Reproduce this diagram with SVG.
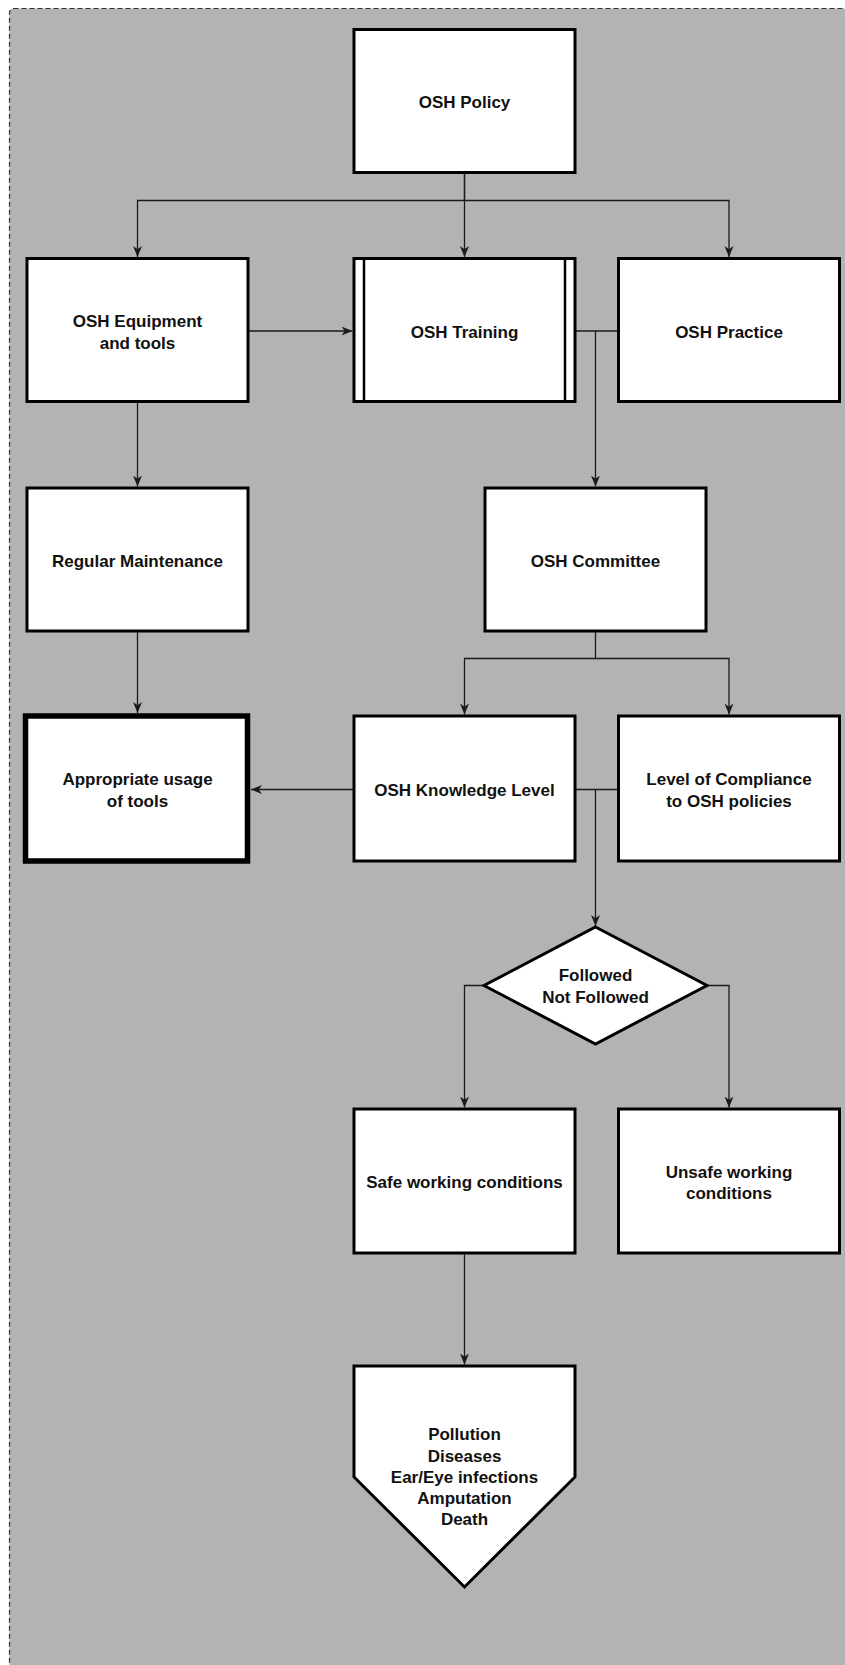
<svg xmlns="http://www.w3.org/2000/svg" width="845" height="1665" viewBox="0 0 845 1665">
<defs>
<style>
.box{fill:#fff;stroke:#000;stroke-width:3}
.thick{fill:#fff;stroke:#000;stroke-width:5.5}
.inner{stroke:#000;stroke-width:2.5}
.con{fill:none;stroke:#1a1a1a;stroke-width:1.3}
text{font-family:"Liberation Sans",Arial,sans-serif;font-weight:bold;font-size:17px;fill:#111;text-anchor:middle}
</style>
<marker id="arr" viewBox="0 0 11 10" refX="11" refY="5" markerWidth="11" markerHeight="10" orient="auto" markerUnits="userSpaceOnUse">
<path d="M0,0.5 L11,5 L0,9.5 L3.2,5 z" fill="#1a1a1a"/>
</marker>
</defs>
<rect x="0" y="0" width="845" height="1665" fill="#fff"/>
<rect x="9.5" y="8.5" width="850" height="1670" rx="4" fill="#b3b3b3" stroke="#333" stroke-width="1.2" stroke-dasharray="5 3"/>

<g id="connectors">
<path class="con" d="M464.5,174 V200.5 H137.5 V257" marker-end="url(#arr)"/>
<path class="con" d="M464.5,174 V257" marker-end="url(#arr)"/>
<path class="con" d="M464.5,200.5 H729 V257" marker-end="url(#arr)"/>
<path class="con" d="M248.5,331 H352.5" marker-end="url(#arr)"/>
<path class="con" d="M575.5,331 H617"/>
<path class="con" d="M595.5,331 V486.5" marker-end="url(#arr)"/>
<path class="con" d="M137.5,402 V486.5" marker-end="url(#arr)"/>
<path class="con" d="M137.5,632 V713" marker-end="url(#arr)"/>
<path class="con" d="M595.5,632 V658.5 H464.5 V714.5" marker-end="url(#arr)"/>
<path class="con" d="M595.5,658.5 H729 V714.5" marker-end="url(#arr)"/>
<path class="con" d="M353,789.5 H251" marker-end="url(#arr)"/>
<path class="con" d="M575.5,789.5 H617"/>
<path class="con" d="M595.5,789.5 V926" marker-end="url(#arr)"/>
<path class="con" d="M484,985.5 H464.5 V1107.5" marker-end="url(#arr)"/>
<path class="con" d="M707,985.5 H729 V1107.5" marker-end="url(#arr)"/>
<path class="con" d="M464.5,1254.5 V1364.5" marker-end="url(#arr)"/>
</g>

<g id="osh-policy">
<rect class="box" x="354" y="29.5" width="221" height="143"/>
<text x="464.5" y="108">OSH Policy</text>
</g>
<g id="osh-equipment">
<rect class="box" x="27" y="258.5" width="221" height="143"/>
<text x="137.5" y="327">OSH Equipment</text>
<text x="137.5" y="348.5">and tools</text>
</g>
<g id="osh-training">
<rect class="box" x="354" y="258.5" width="221" height="143"/>
<line class="inner" x1="364" y1="258.5" x2="364" y2="401.5"/>
<line class="inner" x1="565" y1="258.5" x2="565" y2="401.5"/>
<text x="464.5" y="337.5">OSH Training</text>
</g>
<g id="osh-practice">
<rect class="box" x="618.5" y="258.5" width="221" height="143"/>
<text x="729" y="337.5">OSH Practice</text>
</g>
<g id="regular-maintenance">
<rect class="box" x="27" y="488" width="221" height="143"/>
<text x="137.5" y="566.5">Regular Maintenance</text>
</g>
<g id="osh-committee">
<rect class="box" x="485" y="488" width="221" height="143"/>
<text x="595.5" y="566.5">OSH Committee</text>
</g>
<g id="appropriate-usage">
<rect class="thick" x="25.5" y="716" width="222" height="145"/>
<text x="137.5" y="785">Appropriate usage</text>
<text x="137.5" y="806.5">of tools</text>
</g>
<g id="osh-knowledge">
<rect class="box" x="354" y="716" width="221" height="145"/>
<text x="464.5" y="796">OSH Knowledge Level</text>
</g>
<g id="compliance">
<rect class="box" x="618.5" y="716" width="221" height="145"/>
<text x="729" y="785">Level of Compliance</text>
<text x="729" y="806.5">to OSH policies</text>
</g>
<g id="decision">
<polygon class="box" points="595.5,927 707,985.5 595.5,1044 484,985.5"/>
<text x="595.5" y="981">Followed</text>
<text x="595.5" y="1002.5">Not Followed</text>
</g>
<g id="safe">
<rect class="box" x="354" y="1109" width="221" height="144"/>
<text x="464.5" y="1188">Safe working conditions</text>
</g>
<g id="unsafe">
<rect class="box" x="618.5" y="1109" width="221" height="144"/>
<text x="729" y="1177.5">Unsafe working</text>
<text x="729" y="1198.5">conditions</text>
</g>
<g id="outcomes">
<path class="box" d="M354,1366 H575 V1477 L464.5,1587 L354,1477 Z"/>
<text x="464.5" y="1440">Pollution</text>
<text x="464.5" y="1461.5">Diseases</text>
<text x="464.5" y="1482.5">Ear/Eye infections</text>
<text x="464.5" y="1504">Amputation</text>
<text x="464.5" y="1525">Death</text>
</g>
</svg>
